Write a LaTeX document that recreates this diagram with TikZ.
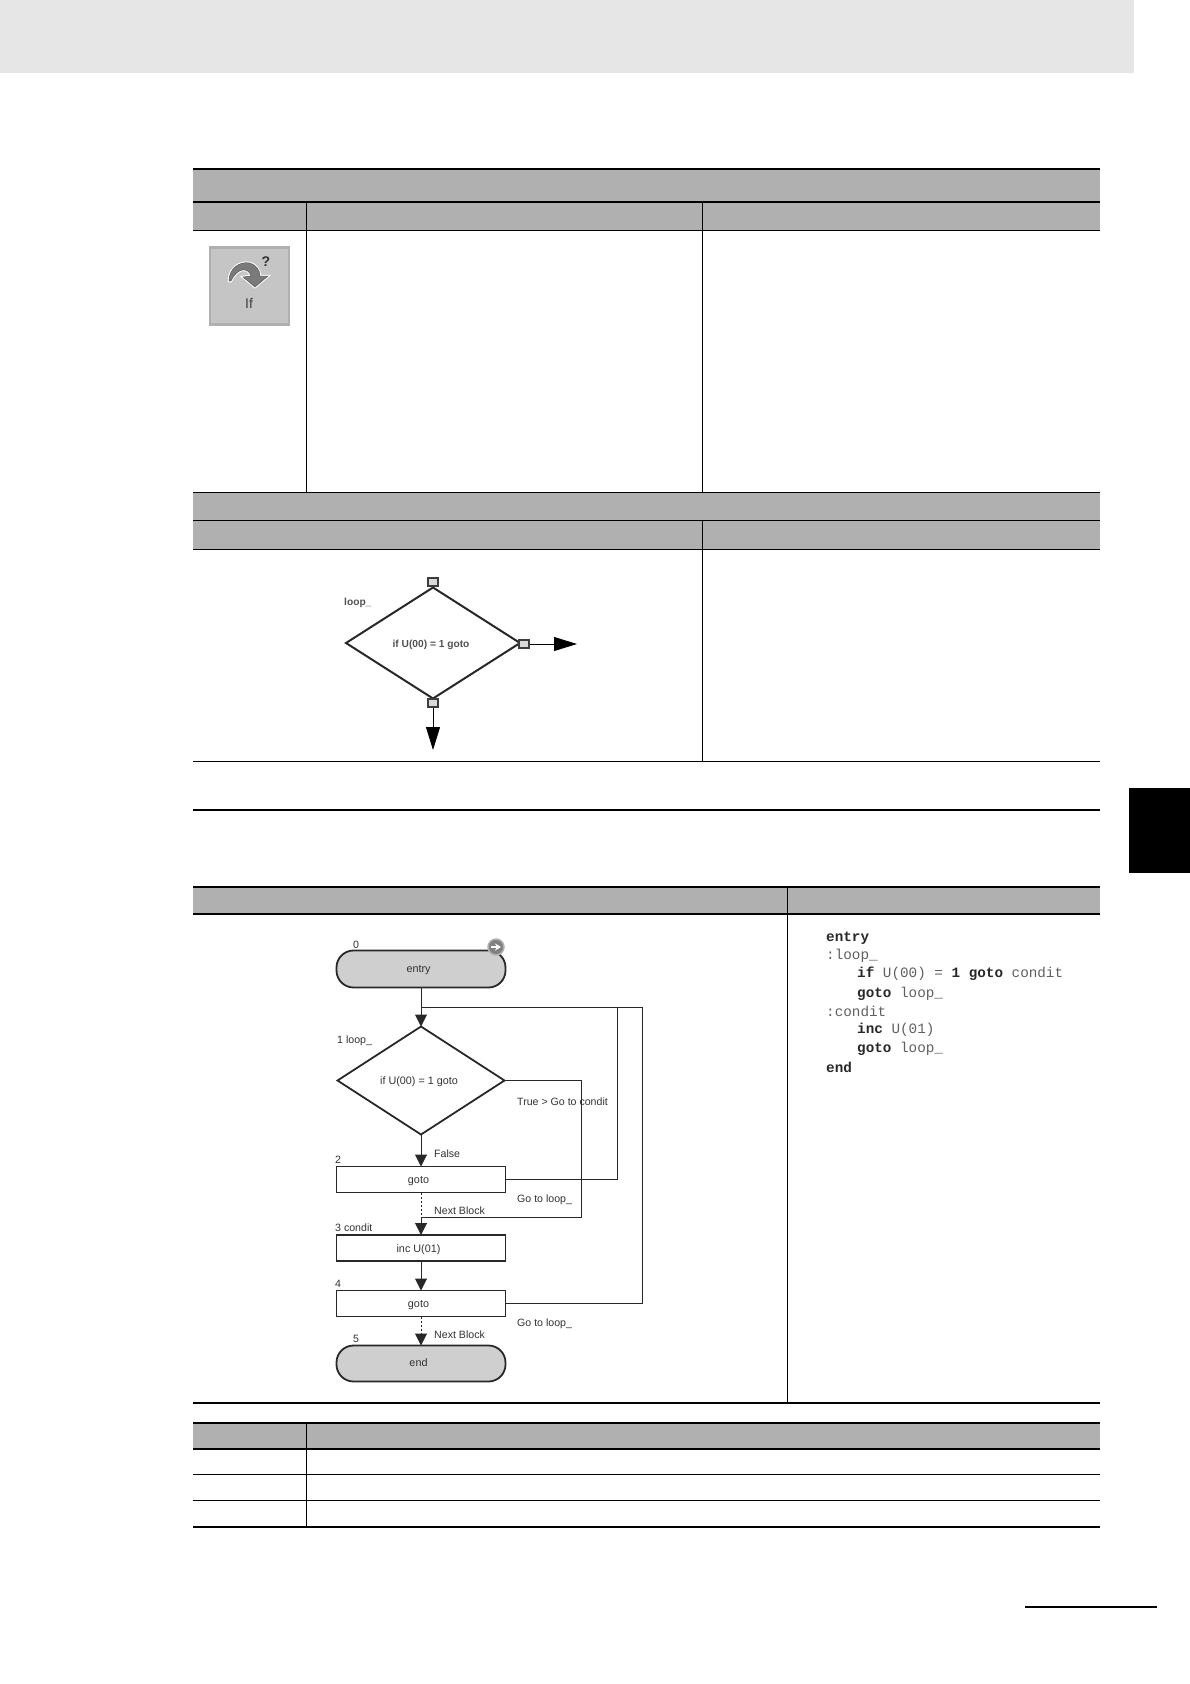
\documentclass[tikz,border=0pt]{standalone}
\usepackage{fontspec}
\setmainfont{Liberation Sans}
\setmonofont{Liberation Mono}
\usetikzlibrary{positioning,shapes.geometric,arrows.meta,calc}
\definecolor{Band}{RGB}{176,176,176}
\definecolor{Header}{RGB}{230,230,230}
\definecolor{Soft}{RGB}{207,207,207}
\definecolor{Ink}{RGB}{40,40,40}
\definecolor{Label}{RGB}{50,50,50}
\definecolor{CodeGray}{RGB}{95,95,95}

\begin{document}
\begin{tikzpicture}[
    x=1pt,y=-1pt,
    tblrule/.style={black,line width=0.9pt},
    tblthick/.style={black,line width=1.6pt},
    band/.style={fill=Band},
    flowbox/.style={rectangle,draw=Ink,line width=1.8pt,outer sep=0pt,minimum width=169pt,minimum height=26pt,inner sep=0pt,font=\fontsize{10.8}{12}\selectfont,text=Label,text height=8pt,text depth=0pt,execute at end node=\kern5pt},
    terminal/.style={flowbox,fill=Soft,rounded corners=17pt,minimum height=36pt,text depth=2pt},
    decision/.style={diamond,draw=Ink,line width=1.8pt,outer sep=0pt,inner sep=0pt,aspect=1.6,font=\fontsize{10.8}{12}\selectfont,text=Label,text height=8pt,text depth=0pt,execute at end node=\kern4pt},
    tag/.style={inner sep=0pt,anchor=west,font=\fontsize{10.6}{12}\selectfont,text=Label},
    portbox/.style={rectangle,draw=Ink!90,line width=1.2pt,fill=black!15,minimum width=10pt,minimum height=8pt,inner sep=0pt},
    arrow/.style={-{Triangle[length=12pt,width=12pt]},Ink,line width=1pt},
    linkline/.style={Ink,line width=1pt},
    bigarrow/.style={-{Triangle[length=23pt,width=14pt]},black,line width=0.9pt},
    codeline/.style={inner sep=0pt,anchor=west,font=\ttfamily\fontsize{14.3}{16}\selectfont,text=CodeGray}
]
\useasboundingbox (0,0) rectangle (1190,1684);

% Page furniture
\fill[Header] (0,0) rectangle (1134,73);
\fill[black] (1129,788) rectangle (1190,873);
\draw[black,line width=1.3pt] (1025,1607) -- (1157,1607);

% Upper table
\fill[band] (193,169) rectangle (1100,230);
\fill[band] (193,492) rectangle (1100,549);
\draw[black,line width=2pt] (193,169) -- (1100,169);
\draw[tblthick] (193,202) -- (1100,202);
\draw[tblrule] (193,230) -- (1100,230);
\draw[tblrule] (193,492) -- (1100,492);
\draw[tblrule] (193,520) -- (1100,520);
\draw[tblrule] (193,549) -- (1100,549);
\draw[tblrule] (193,761) -- (1100,761);
\draw[tblthick] (193,810) -- (1100,810);
\draw[tblrule] (306,202) -- (306,492);
\draw[tblrule] (702,202) -- (702,492);
\draw[tblrule] (702,520) -- (702,761);

% If button
\node[rectangle,draw=Band,line width=2.5pt,fill=Soft!95!black,minimum width=79pt,minimum height=77pt,inner sep=0pt] (if-icon) at (249.5,286) {};
\path[fill=black!52,draw=black!70,thin,preaction={draw=white,line width=2.5pt}] (229,281) .. controls (229,268) and (240,261) .. (250,263) .. controls (256,265) and (260,270) .. (260,276) -- (268,276) -- (255,287) -- (243,277) -- (251,276) .. controls (249,268) and (238,266) .. (231,281) -- cycle;
\node[font=\bfseries\fontsize{14}{14}\selectfont,text=black!80,inner sep=0pt] (if-mark) at (266,262) {?};
\node[font=\fontsize{14}{14}\selectfont,text=black!75,inner sep=0pt] (if-label) at (249,303) {If};

% Single block
\node[decision,line width=2pt,minimum width=174pt,minimum height=111pt,font=\bfseries\fontsize{10.2}{12}\selectfont,text=Label!85] (blk-cond) at (433,643) {if U(00) = 1 goto};
\node[tag,font=\bfseries\fontsize{10.2}{12}\selectfont,text=Label!85] (blk-name) at (344,603) {loop\_};
\node[portbox] (blk-top) at (433,582) {};
\node[portbox] (blk-right) at (524,644) {};
\node[portbox] (blk-bottom) at (433,703) {};
\coordinate (blk-out1) at (577,644);
\coordinate (blk-out2) at (433,750);
\draw[bigarrow] (blk-right) -- (blk-out1);
\draw[bigarrow] (blk-bottom) -- (blk-out2);

% Lower table
\fill[band] (193,887) rectangle (1100,914);
\draw[tblthick] (193,887) -- (1100,887);
\draw[tblthick] (193,914) -- (1100,914);
\draw[tblthick] (193,1403) -- (1100,1403);
\draw[tblrule] (787,887) -- (787,1403);

% Flow chart
\node[terminal,minimum height=37pt] (entry) at (421,969) {entry};
\node[decision,minimum width=167pt,minimum height=108pt,below=39pt of entry] (cond) {if U(00) = 1 goto};
\node[flowbox,below=32pt of cond] (goto1) {goto};
\node[flowbox,below=42.5pt of goto1] (incu) {inc U(01)};
\node[flowbox,below=29.5pt of incu] (goto2) {goto};
\node[terminal,below=29pt of goto2] (end) {end};

\node[circle,draw=black!30,line width=1.5pt,fill=black!50,minimum size=16pt,inner sep=0pt] (run-mark) at (496,947) {};
\draw[-{Stealth[length=6pt,width=7pt]},white,line width=1.2pt] ($(run-mark.center)+(-5,0)$) -- ($(run-mark.center)+(5,0)$);

\node[tag] (n0) at (353,945) {0};
\node[tag] (n1) at (337,1041) {1 loop\_};
\node[tag] (n2) at (335,1160) {2};
\node[tag] (n3) at (335,1228) {3 condit};
\node[tag] (n4) at (335,1284) {4};
\node[tag] (n5) at (353,1339) {5};
\node[tag] (lb-true) at (517,1102) {True > Go to condit};
\node[tag] (lb-false) at (434,1154) {False};
\node[tag] (lb-loop1) at (517,1200) {Go to loop\_};
\node[tag] (lb-next1) at (434,1211) {Next Block};
\node[tag] (lb-loop2) at (517,1324) {Go to loop\_};
\node[tag] (lb-next2) at (434,1335) {Next Block};

\coordinate (loop-in) at (421,1007);
\coordinate (cond-in) at (421,1217);

\draw[arrow] (entry) -- (cond);
\draw[arrow] (cond) -- (goto1);
\draw[linkline,dash pattern=on 2.5pt off 1.5pt] (goto1) -- (cond-in);
\draw[arrow] (cond-in) -- (incu);
\draw[arrow] (incu) -- (goto2);
\draw[arrow,dash pattern=on 2.5pt off 1.5pt] (goto2) -- (end);

% Jumps
\draw[linkline] (cond.east) -- ++(77,0) |- (cond-in);
\draw[linkline] (goto1.east) -- ++(112,0) |- (loop-in);
\draw[linkline] (goto2.east) -- ++(137,0) |- (loop-in);

% Listing
\node[codeline] (ln1) at (826,938) {\textbf{\color{Ink}entry}};
\node[codeline] (ln2) at (826,956) {:loop\_};
\node[codeline] (ln3) at (857,974) {\textbf{\color{Ink}if} U(00) = \textbf{\color{Ink}1 goto} condit};
\node[codeline] (ln4) at (857,994) {\textbf{\color{Ink}goto} loop\_};
\node[codeline] (ln5) at (826,1011) {:condit};
\node[codeline] (ln6) at (857,1030) {\textbf{\color{Ink}inc} U(01)};
\node[codeline] (ln7) at (857,1049) {\textbf{\color{Ink}goto} loop\_};
\node[codeline] (ln8) at (826,1067) {\textbf{\color{Ink}end}};

% Bottom table
\fill[band] (193,1423) rectangle (1100,1449);
\draw[tblthick] (193,1423) -- (1100,1423);
\draw[tblthick] (193,1449) -- (1100,1449);
\draw[tblrule] (193,1474) -- (1100,1474);
\draw[tblrule] (193,1500) -- (1100,1500);
\draw[tblthick] (193,1527) -- (1100,1527);
\draw[tblrule] (306,1423) -- (306,1527);

\end{tikzpicture}
\end{document}
